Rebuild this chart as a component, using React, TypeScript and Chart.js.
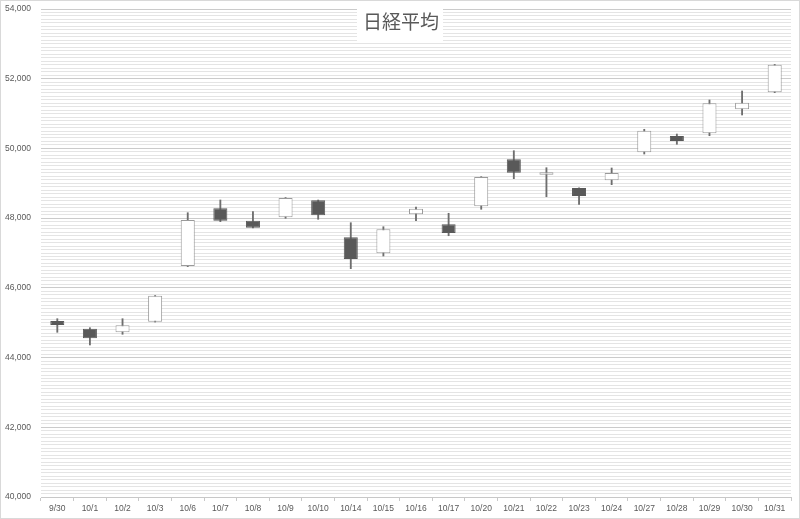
import React, { useEffect, useRef } from "react";
import { Chart, registerables } from "chart.js";

Chart.register(...registerables);

const labels = ["9/30", "10/1", "10/2", "10/3", "10/6", "10/7", "10/8", "10/9", "10/10", "10/14", "10/15", "10/16", "10/17", "10/20", "10/21", "10/22", "10/23", "10/24", "10/27", "10/28", "10/29", "10/30", "10/31"];
const openV = [45049, 44828, 44725, 45029, 46627, 48283, 47927, 48024, 48512, 47450, 46991, 48110, 47823, 48340, 49688, 49247, 48865, 49086, 49889, 50357, 50434, 51123, 51610];
const highV = [45115, 44857, 45115, 45780, 48156, 48521, 48185, 48590, 48520, 47869, 47754, 48320, 48139, 49190, 49935, 49447, 48870, 49439, 50549, 50413, 51390, 51648, 52410];
const lowV = [44725, 44361, 44668, 45020, 46610, 47898, 47720, 47996, 47967, 46550, 46914, 47927, 47496, 48254, 49132, 48615, 48397, 48960, 49840, 50119, 50365, 50959, 51600];
const closeV = [44934, 44553, 44926, 45775, 47947, 47927, 47726, 48578, 48082, 46828, 47680, 48271, 47574, 49180, 49304, 49315, 48635, 49295, 50509, 50213, 51295, 51312, 52402];

const TITLE = "日経平均";
const Y_MIN = 40000;
const Y_MAX = 54000;
const MAJOR_STEP = 2000;
const MINOR_STEP = 100;

export default function App() {
  const ref = useRef<HTMLCanvasElement | null>(null);

  useEffect(() => {
    if (!ref.current) return;
    const up = closeV.map((c, i) => c >= openV[i]);
    const titlePlugin = {
      id: "excelTitle",
      afterDraw(chart: any) {
        const ctx = chart.ctx;
        const cx = chart.width / 2;
        ctx.save();
        ctx.fillStyle = "#ffffff";
        ctx.fillRect(cx - 43, 0, 86, 42);
        ctx.fillStyle = "#595959";
        ctx.font = '19px "Noto Sans CJK JP"';
        ctx.textAlign = "center";
        ctx.textBaseline = "middle";
        ctx.fillText(TITLE, cx + 1, 22);
        ctx.strokeStyle = "#d9d9d9";
        ctx.lineWidth = 1;
        ctx.strokeRect(0.5, 0.5, chart.width - 1, chart.height - 1);
        ctx.restore();
      },
    };
    const chart = new Chart(ref.current, {
      type: "bar",
      data: {
        labels,
        datasets: [
          {
            label: "body",
            data: openV.map((o, i) => [o, closeV[i]]) as any,
            backgroundColor: up.map((u) => (u ? "#ffffff" : "#595959")),
            borderColor: up.map((u) => (u ? "#9a9a9a" : "#595959")),
            borderWidth: 1,
            borderSkipped: false,
            barPercentage: 0.43,
            categoryPercentage: 1,
            grouped: false,
            order: 0,
          },
          {
            label: "wick",
            data: lowV.map((l, i) => [l, highV[i]]) as any,
            backgroundColor: "#6e6e6e",
            borderWidth: 0,
            barThickness: 1.2,
            grouped: false,
            order: 1,
          },
        ],
      },
      options: {
        responsive: false,
        animation: false,
        devicePixelRatio: 1,
        layout: { padding: { top: 9, right: 9, left: 0, bottom: 0 } },
        plugins: {
          legend: { display: false },
          tooltip: { enabled: false },
          title: { display: false },
        },
        scales: {
          x: {
            grid: {
              display: true,
              drawOnChartArea: false,
              drawTicks: true,
              tickLength: 4,
              color: "#c8c8c8",
              offset: true,
            },
            border: { display: true, color: "#c8c8c8" },
            ticks: {
              color: "#595959",
              font: { family: '"Liberation Sans", Arial, sans-serif', size: 8.5 },
              padding: 3,
              maxRotation: 0,
              autoSkip: false,
            },
            afterFit(scale: any) {
              scale.height = 22;
              scale.paddingLeft = 0;
              scale.paddingRight = 0;
            },
          },
          y: {
            min: Y_MIN,
            max: Y_MAX,
            grid: {
              drawTicks: false,
              color: (c: any) =>
                c.tick && c.tick.value % MAJOR_STEP === 0 ? "#cbcbcb" : "#e4e4e4",
            },
            border: { display: false },
            ticks: {
              stepSize: MINOR_STEP,
              maxTicksLimit: 1000,
              autoSkip: false,
              padding: 10,
              color: "#595959",
              font: { family: '"Liberation Sans", Arial, sans-serif', size: 8.5 },
              callback: (v: any) =>
                Number(v) % MAJOR_STEP === 0 ? Number(v).toLocaleString("en-US") : "",
            },
            afterFit(scale: any) {
              scale.width = 41;
              scale.paddingTop = 0;
              scale.paddingBottom = 0;
            },
          },
        },
      },
      plugins: [titlePlugin],
    });
    return () => chart.destroy();
  }, []);

  return (
    <div style={{ position: "absolute", left: 0, top: 0, width: 800, height: 519, background: "#fff" }}>
      <canvas ref={ref} width={800} height={519} style={{ display: "block" }} />
    </div>
  );
}
